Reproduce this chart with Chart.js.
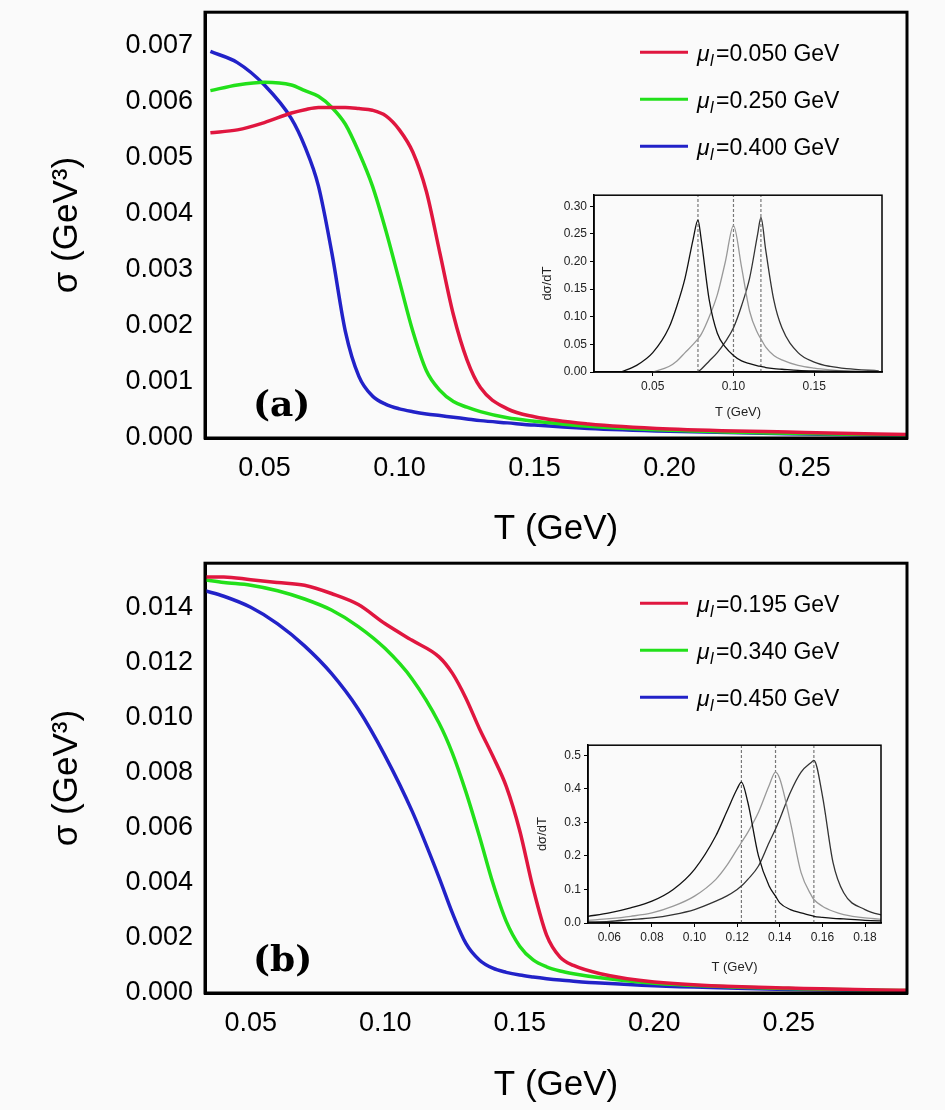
<!DOCTYPE html>
<html>
<head>
<meta charset="utf-8">
<script src="https://cdn.jsdelivr.net/npm/chart.js@4.4.0/dist/chart.umd.min.js"></script>
<style>
  body { margin: 0; background: #fafafa; width: 945px; height: 1110px; position: relative; overflow: hidden; }
  .box { position: absolute; }
</style>
</head>
<body>
<div class="box" style="left:0;top:-16px;width:945px;height:570px"><canvas id="chartA"></canvas></div>
<div class="box" style="left:0;top:535px;width:945px;height:575px"><canvas id="chartB"></canvas></div>
<div class="box" style="left:540px;top:185px;width:360px;height:235px"><canvas id="insetA"></canvas></div>
<div class="box" style="left:535px;top:735px;width:365px;height:240px"><canvas id="insetB"></canvas></div>
<script>
// ============= DATA =============
const tA = [0.03,0.04,0.05,0.06,0.065,0.07,0.075,0.08,0.085,0.09,0.095,0.1,0.105,0.11,0.115,0.12,0.125,0.13,0.14,0.15,0.17,0.2,0.25,0.29];
const sigmaA050 = [0.00545,0.0055,0.00563,0.0058,0.00586,0.0059,0.0059,0.0059,0.00588,0.00585,0.00575,0.0055,0.0051,0.0044,0.0033,0.0022,0.0014,0.0009,0.00052,0.00038,0.00025,0.00016,0.0001,0.00006];
const sigmaA250 = [0.0062,0.0063,0.00635,0.0063,0.0062,0.0061,0.0059,0.0056,0.0051,0.0045,0.0037,0.0028,0.0019,0.0012,0.00085,0.00065,0.00055,0.00047,0.00036,0.0003,0.00021,0.00014,0.00008,0.00005];
const sigmaA400 = [0.0069,0.0067,0.0063,0.0057,0.0052,0.0045,0.0033,0.0019,0.0011,0.00075,0.0006,0.00052,0.00047,0.00043,0.0004,0.00037,0.00034,0.00031,0.00027,0.00023,0.00017,0.00012,0.00007,0.00004];
const labelsA = ['0.050', '0.250', '0.400'];

const tB = [0.033,0.04,0.05,0.06,0.07,0.08,0.09,0.1,0.11,0.12,0.125,0.13,0.135,0.14,0.145,0.15,0.155,0.16,0.165,0.17,0.18,0.2,0.25,0.294];
const sigmaB195 = [0.0151,0.0151,0.015,0.0149,0.0148,0.0145,0.0141,0.0134,0.0128,0.0122,0.0116,0.0107,0.0096,0.0086,0.0075,0.0059,0.0038,0.0021,0.0013,0.001,0.0007,0.0004,0.00018,0.0001];
const sigmaB340 = [0.015,0.0149,0.0148,0.0146,0.0143,0.0139,0.0133,0.0125,0.0114,0.0098,0.0087,0.0073,0.0057,0.004,0.0026,0.0017,0.0012,0.00095,0.0008,0.0007,0.00055,0.00035,0.00016,0.00009];
const sigmaB450 = [0.0146,0.0144,0.014,0.0134,0.0126,0.0116,0.0103,0.0086,0.0066,0.0042,0.0029,0.0018,0.0012,0.0009,0.00075,0.00065,0.00058,0.00052,0.00047,0.00043,0.00036,0.00026,0.00013,0.00007];
const labelsB = ['0.195', '0.340', '0.450'];

const tInA = [0.03,0.04,0.05,0.06,0.065,0.07,0.075,0.078,0.08,0.085,0.09,0.095,0.1,0.105,0.11,0.115,0.117,0.12,0.125,0.13,0.14,0.15,0.16,0.17,0.19];
const dsInA1 = [0.0,0.012,0.035,0.08,0.12,0.17,0.24,0.275,0.24,0.13,0.07,0.045,0.03,0.02,0.015,0.011,0.01,0.008,0.006,0.005,0.003,0.002,0.0015,0.001,0.0005];
const dsInA2 = [null,null,0.0,0.01,0.02,0.035,0.05,0.06,0.068,0.1,0.14,0.2,0.265,0.19,0.11,0.07,0.06,0.045,0.03,0.022,0.012,0.007,0.004,0.002,0.001];
const dsInA3 = [null,null,null,null,null,null,null,0.0,0.005,0.02,0.035,0.055,0.08,0.12,0.17,0.25,0.28,0.22,0.13,0.08,0.035,0.018,0.01,0.006,0.002];
const peaksA = [0.078, 0.1, 0.117];

const tInB = [0.05,0.06,0.07,0.08,0.09,0.1,0.11,0.115,0.12,0.122,0.125,0.13,0.135,0.138,0.14,0.145,0.15,0.155,0.156,0.16,0.165,0.17,0.18,0.19];
const dsInB1 = [0.02,0.03,0.045,0.065,0.1,0.16,0.26,0.33,0.4,0.42,0.36,0.2,0.11,0.08,0.06,0.04,0.03,0.022,0.02,0.017,0.014,0.012,0.008,0.006];
const dsInB2 = [0.008,0.013,0.02,0.03,0.05,0.08,0.13,0.17,0.22,0.24,0.27,0.33,0.41,0.45,0.43,0.3,0.15,0.08,0.07,0.05,0.035,0.025,0.015,0.01];
const dsInB3 = [0.003,0.005,0.01,0.015,0.025,0.04,0.065,0.08,0.1,0.11,0.13,0.17,0.24,0.28,0.31,0.39,0.45,0.48,0.485,0.38,0.18,0.09,0.04,0.02];
const peaksB = [0.122, 0.138, 0.156];

const COLORS = ['#e0163f', '#22e01a', '#2222c8'];

function pts(xs, ys) {
    return xs.map((x, i) => ({ x: x, y: ys[i] })).filter(p => p.y !== null);
}

// ============= PLUGINS =============
const framePlugin = {
    id: 'frame',
    afterDraw(chart, args, opts) {
        const a = chart.chartArea, ctx = chart.ctx;
        ctx.save();
        ctx.strokeStyle = '#000';
        ctx.lineWidth = opts.width || 3;
        ctx.strokeRect(a.left, a.top, a.right - a.left, a.bottom - a.top);
        if (opts.legend) {
            opts.legend.forEach((lab, i) => {
                const y = a.top + opts.legendY + i * 47;
                ctx.strokeStyle = COLORS[i];
                ctx.lineWidth = 3;
                ctx.beginPath(); ctx.moveTo(640, y); ctx.lineTo(688, y); ctx.stroke();
                ctx.fillStyle = '#000';
                ctx.textBaseline = 'middle';
                ctx.font = 'italic 23px "Liberation Sans", Arial';
                ctx.fillText('\u03bc', 697, y + 2);
                ctx.font = 'italic 16px "Liberation Sans", Arial';
                ctx.fillText('l', 710, y + 9);
                ctx.font = '23px "Liberation Sans", Arial';
                ctx.fillText('=' + lab + ' GeV', 716, y + 2);
            });
        }
        if (opts.tag) {
            ctx.fillStyle = '#000';
            ctx.font = 'bold 36px "DejaVu Serif", serif';
            ctx.textBaseline = 'alphabetic';
            ctx.fillText(opts.tag, a.left + 48, a.bottom - 22);
        }
        ctx.restore();
    }
};

function mainChart(id, xs, series, labels, xmin, xmax, ymax, step, xh, tag, legendY) {
    return new Chart(document.getElementById(id), {
        type: 'line',
        data: {
            datasets: series.map((s, i) => ({
                data: pts(xs, s), borderColor: COLORS[i], borderWidth: 3.5,
                pointRadius: 0, cubicInterpolationMode: 'monotone', fill: false
            }))
        },
        options: {
            responsive: true, maintainAspectRatio: false, animation: false,
            layout: { padding: { top: 5, right: 38, left: 42, bottom: 0 } },
            plugins: {
                legend: { display: false }, tooltip: { enabled: false },
                frame: { width: 3, legend: labels, legendY: legendY, tag: tag }
            },
            scales: {
                x: {
                    type: 'linear', min: xmin, max: xmax,
                    afterBuildTicks: s => { s.ticks = [0.05,0.10,0.15,0.20,0.25].map(v => ({ value: v })); },
                    ticks: { callback: v => v.toFixed(2), color: '#000', font: { size: 27, family: 'Liberation Sans' }, padding: 14 },
                    grid: { drawOnChartArea: false, tickLength: 0 },
                    border: { color: '#000', width: 3 },
                    title: { display: true, text: 'T (GeV)', color: '#000', font: { size: 35, family: 'Liberation Sans' } },
                    afterFit: s => { s.height = xh; }
                },
                y: {
                    min: 0, max: ymax,
                    afterBuildTicks: s => { const t = []; for (let v = 0; v <= ymax + 1e-9; v += step) t.push({ value: +v.toFixed(4) }); s.ticks = t; },
                    ticks: { callback: v => v.toFixed(3), color: '#000', font: { size: 27, family: 'Liberation Sans' }, padding: 12 },
                    grid: { drawOnChartArea: false, tickLength: 0 },
                    border: { color: '#000', width: 3 },
                    title: { display: true, text: '\u03c3 (GeV\u00b3)', color: '#000', font: { size: 35, family: 'Liberation Sans' } },
                    afterFit: s => { s.width = 163; }
                }
            }
        },
        plugins: [framePlugin]
    });
}

function insetChart(id, xs, series, peaks, xmin, xmax, ymax, yticks, xticks, ydig, yw, xh, pad) {
    const grays = ['#111', '#999', '#333'];
    const ds = series.map((s, i) => ({
        data: pts(xs, s), borderColor: grays[i], borderWidth: 1.3,
        pointRadius: 0, cubicInterpolationMode: 'monotone', fill: false
    }));
    peaks.forEach(p => ds.push({
        data: [{ x: p, y: 0 }, { x: p, y: ymax }], borderColor: '#777', borderWidth: 1.2,
        borderDash: [3, 2], pointRadius: 0
    }));
    return new Chart(document.getElementById(id), {
        type: 'line',
        data: { datasets: ds },
        options: {
            responsive: true, maintainAspectRatio: false, animation: false,
            layout: { padding: pad },
            plugins: { legend: { display: false }, tooltip: { enabled: false }, frame: { width: 1.5 } },
            scales: {
                x: {
                    type: 'linear', min: xmin, max: xmax,
                    afterBuildTicks: s => { s.ticks = xticks.map(v => ({ value: v })); },
                    ticks: { callback: v => v.toFixed(2), color: '#222', font: { size: 12, family: 'Liberation Sans' }, padding: 3 },
                    grid: { drawOnChartArea: false, tickLength: 4, color: '#000' },
                    border: { color: '#000', width: 1.5 },
                    title: { display: true, text: 'T (GeV)', color: '#222', font: { size: 13, family: 'Liberation Sans' }, padding: 0 },
                    afterFit: s => { s.height = xh; }
                },
                y: {
                    min: 0, max: ymax,
                    afterBuildTicks: s => { s.ticks = yticks.map(v => ({ value: v })); },
                    ticks: { callback: v => v.toFixed(ydig), color: '#222', font: { size: 12, family: 'Liberation Sans' }, padding: 3 },
                    grid: { drawOnChartArea: false, tickLength: 4, color: '#000' },
                    border: { color: '#000', width: 1.5 },
                    title: { display: true, text: 'd\u03c3/dT', color: '#222', font: { size: 13, family: 'Liberation Sans' }, padding: 0 },
                    afterFit: s => { s.width = yw; }
                }
            }
        },
        plugins: [framePlugin]
    });
}

// ============= INITIALIZATION =============
mainChart('chartA', tA, [sigmaA050, sigmaA250, sigmaA400], labelsA, 0.028, 0.288, 0.0076, 0.001, 116, '(a)', 40);
mainChart('chartB', tB, [sigmaB195, sigmaB340, sigmaB450], labelsB, 0.033, 0.294, 0.0156, 0.002, 117, '(b)', 40);

insetChart('insetA', tInA, [dsInA1, dsInA2, dsInA3], peaksA, 0.0136, 0.192, 0.32,
    [0, 0.05, 0.10, 0.15, 0.20, 0.25, 0.30], [0.05, 0.10, 0.15], 2, 54, 48, { top: 10, right: 18, left: 0, bottom: 0 });
insetChart('insetB', tInB, [dsInB1, dsInB2, dsInB3], peaksB, 0.05, 0.1875, 0.53,
    [0, 0.1, 0.2, 0.3, 0.4, 0.5], [0.06, 0.08, 0.10, 0.12, 0.14, 0.16, 0.18], 1, 53, 52, { top: 9, right: 19, left: 0, bottom: 0 });
</script>
</body>
</html>
